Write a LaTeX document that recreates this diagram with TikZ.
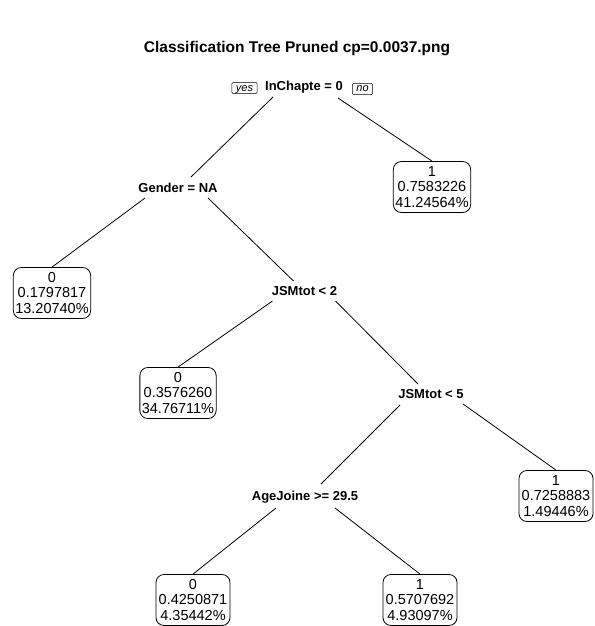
\documentclass[tikz,border=0pt]{standalone}
\usepackage{fontspec}
\setmainfont{Liberation Sans}
\begin{document}
\begin{tikzpicture}[x=1pt,y=-1pt,
 split/.style={font=\fontsize{13}{15.5}\selectfont\bfseries, inner sep=0pt, text height=9.3pt, text depth=0pt},
 leaf/.style={draw, rounded corners=8pt, line width=0.8pt, align=center, font=\fontsize{14.5}{15.5}\selectfont, inner xsep=2pt, inner ysep=0pt, minimum height=51pt, minimum width=74pt},
 yn/.style={draw, rounded corners=1pt, line width=0.5pt, font=\fontsize{11}{12}\selectfont\itshape, inner xsep=4pt, inner ysep=0pt, minimum height=11pt, text height=6pt, text depth=0pt},
 branch/.style={line width=0.8pt}]
\useasboundingbox (0,0) rectangle (594,626);

\node[font=\fontsize{15.5}{18}\selectfont\bfseries, inner sep=0pt, text height=11pt, text depth=0pt] (title) at (297,47) {Classification Tree Pruned cp=0.0037.png};

% split labels
\node[split] (root) at (304,86) {InChapte = 0};
\node[yn] (yes) at (244.5,88) {yes};
\node[yn] (no) at (362.5,89) {no};
\node[split] (gender) at (178,188) {Gender = NA};
\node[split] (jsm2) at (304.5,291) {JSMtot < 2};
\node[split] (jsm5) at (431,394) {JSMtot < 5};
\node[split] (age) at (305,496) {AgeJoine >= 29.5};

% leaves
\node[leaf] (leaf1) at (432,187) {1\\0.7583226\\41.24564\%};
\node[leaf] (leafA) at (52,293) {0\\0.1797817\\13.20740\%};
\node[leaf] (leafB) at (178,393) {0\\0.3576260\\34.76711\%};
\node[leaf] (leafC) at (556,496) {1\\0.7258883\\1.49446\%};
\node[leaf] (leafD) at (193,600) {0\\0.4250871\\4.35442\%};
\node[leaf] (leafE) at (420,600) {1\\0.5707692\\4.93097\%};

% branches
\draw[branch] ([shift={(-31,11)}]root.center) -- ([shift={(13,-11)}]gender.center);
\draw[branch] ([shift={(34,12)}]root.center) -- (leaf1.north);
\draw[branch] ([shift={(-33,10)}]gender.center) -- (leafA.north);
\draw[branch] ([shift={(30,10)}]gender.center) -- ([shift={(-11,-10)}]jsm2.center);
\draw[branch] ([shift={(-32,10)}]jsm2.center) -- (leafB.north);
\draw[branch] ([shift={(31,10)}]jsm2.center) -- ([shift={(-13,-10)}]jsm5.center);
\draw[branch] ([shift={(-31,11)}]jsm5.center) -- ([shift={(16,-12)}]age.center);
\draw[branch] ([shift={(32,10)}]jsm5.center) -- (leafC.north);
\draw[branch] ([shift={(-29,12)}]age.center) -- (leafD.north);
\draw[branch] ([shift={(30,12)}]age.center) -- (leafE.north);
\end{tikzpicture}
\end{document}
